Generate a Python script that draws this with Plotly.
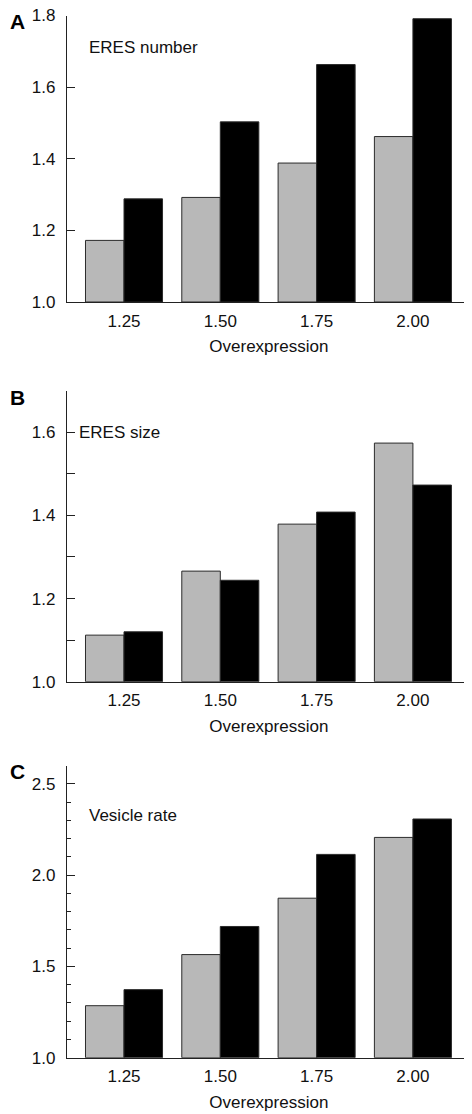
import plotly.graph_objects as go

categories = ["1.25", "1.50", "1.75", "2.00"]

eres_number_grey = [1.172, 1.292, 1.388, 1.462]
eres_number_black = [1.288, 1.503, 1.663, 1.791]

eres_size_grey = [1.112, 1.266, 1.379, 1.574]
eres_size_black = [1.120, 1.244, 1.408, 1.473]

vesicle_rate_grey = [1.285, 1.565, 1.874, 2.207]
vesicle_rate_black = [1.373, 1.719, 2.114, 2.308]

panel_labels = ["A", "B", "C"]
panel_titles = ["ERES number", "ERES size", "Vesicle rate"]
x_title = "Overexpression"

W, H = 472, 1114
OFF = 8  # page body margin compensation
FONT = "Liberation Sans, Arial, Helvetica, sans-serif"
FS = 17
GREY = "#b8b8b8"
BLACK = "#000000"
EDGE = "#2b2b2b"

def py(y):
    return (H - (y - OFF)) / H

def px(x):
    return (x - OFF) / W

fig = go.Figure()

panels = [
    (eres_number_grey, eres_number_black, (15.5, 302), [1.0, 1.8], 0.2, None, None),
    (eres_size_grey, eres_size_black, (390.7, 681.7), [1.0, 1.7], 0.2, 0.1, 8),
    (vesicle_rate_grey, vesicle_rate_black, (765.7, 1057.7), [1.0, 2.6], 0.5, 0.1, 4),
]

x_dom = [px(67), px(470.7)]

for i, (g, b, (ytop, ybot), yr, dt, mdt, mlen) in enumerate(panels):
    n = i + 1
    xa = "x" if n == 1 else f"x{n}"
    ya = "y" if n == 1 else f"y{n}"
    fig.add_trace(go.Bar(x=categories, y=[v - 1.0 for v in g], base=1.0,
                         marker=dict(color=GREY, line=dict(color=EDGE, width=1)),
                         xaxis=xa, yaxis=ya, showlegend=False))
    fig.add_trace(go.Bar(x=categories, y=[v - 1.0 for v in b], base=1.0,
                         marker=dict(color=BLACK, line=dict(color=EDGE, width=1)),
                         xaxis=xa, yaxis=ya, showlegend=False))
    xkey = "xaxis" if n == 1 else f"xaxis{n}"
    ykey = "yaxis" if n == 1 else f"yaxis{n}"
    yaxis = dict(domain=[py(ybot), py(ytop)], range=yr, dtick=dt, tick0=1.0,
                 ticks="inside", ticklen=8, tickwidth=1, tickcolor="#222",
                 showline=True, linecolor="#222", linewidth=1.2,
                 showgrid=False, zeroline=False, anchor=xa, automargin=False,
                 tickformat=".1f", ticklabelstandoff=7, ticklabeloverflow="allow",
                 tickfont=dict(family=FONT, size=FS, color="#111"))
    if mdt:
        yaxis["minor"] = dict(dtick=mdt, tick0=1.0, ticks="inside", ticklen=mlen,
                              tickwidth=1, tickcolor="#222", showgrid=False)
    fig.layout[ykey] = yaxis
    fig.layout[xkey] = dict(domain=x_dom, anchor=ya, range=[-0.592, 3.6],
                            showline=True, linecolor="#222", linewidth=1.2,
                            ticks="", showgrid=False, zeroline=False, automargin=False,
                            ticklabelstandoff=3,
                            tickfont=dict(family=FONT, size=FS, color="#111"),
                            title=dict(text=x_title, standoff=10,
                                       font=dict(family=FONT, size=FS, color="#111")))

annotations = []
title_pos = [(87, 47), (77, 432.7), (87, 815.7)]
letter_pos = [(1.0, "top"), (py(397.5), "middle"), (py(771.5), "middle")]
for i in range(3):
    ly, lanchor = letter_pos[i]
    annotations.append(dict(text=f"<b>{panel_labels[i]}</b>", x=0, y=ly,
                            xref="paper", yref="paper", xanchor="left", yanchor=lanchor,
                            showarrow=False, font=dict(family=FONT, size=21, color="#000")))
    tx, ty = title_pos[i]
    annotations.append(dict(text=panel_titles[i], x=px(tx), y=py(ty),
                            xref="paper", yref="paper", xanchor="left", yanchor="middle",
                            showarrow=False, font=dict(family=FONT, size=FS, color="#111")))

fig.update_layout(width=W, height=H, margin=dict(l=0, r=0, t=0, b=0),
                  paper_bgcolor="white", plot_bgcolor="white",
                  barmode="group", bargap=0.2, bargroupgap=0,
                  annotations=annotations, showlegend=False)

fig.write_html("out.html")
